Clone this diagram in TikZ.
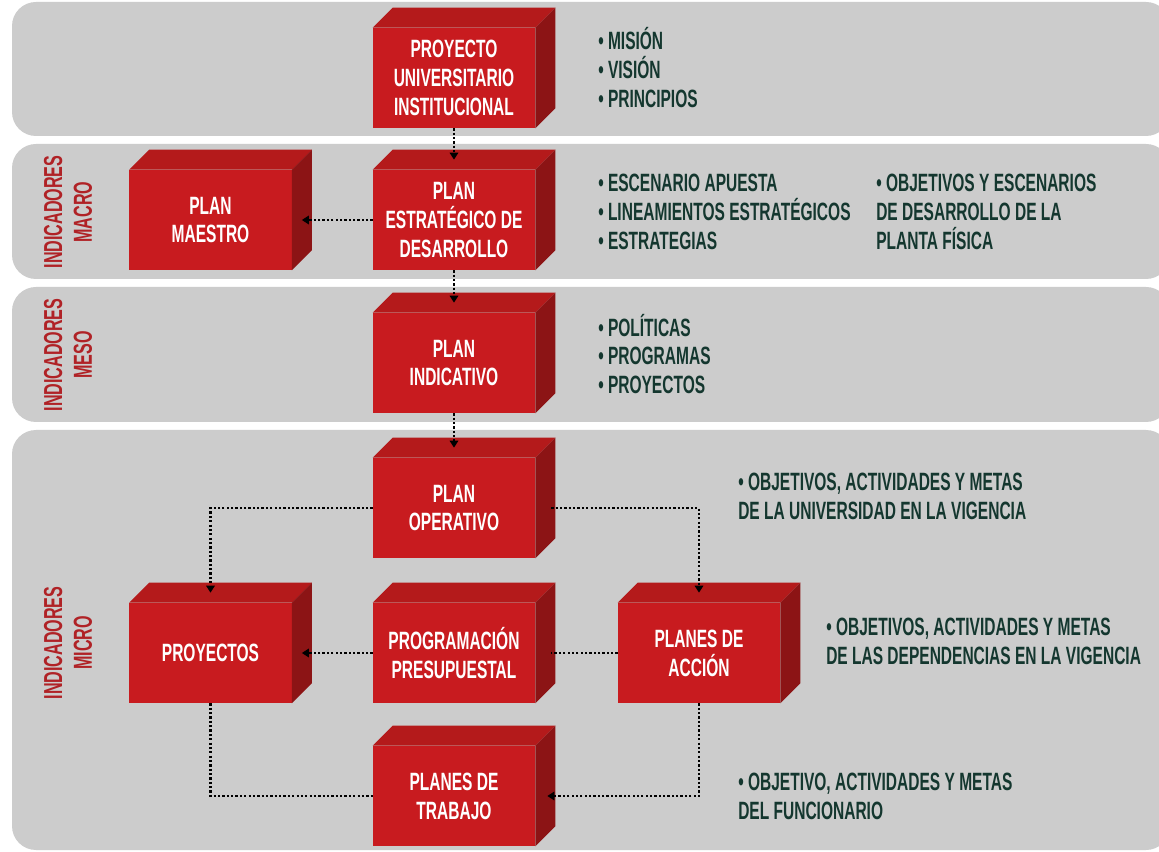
\documentclass[tikz,border=0pt]{standalone}
\usepackage{fontspec}
\setmainfont{Liberation Sans}[FakeStretch=0.62]
\usetikzlibrary{arrows.meta}
\definecolor{bandgray}{HTML}{CCCCCC}
\definecolor{boxfront}{HTML}{C81B1F}
\definecolor{boxtop}{HTML}{B41A1B}
\definecolor{boxside}{HTML}{8C1415}
\definecolor{labelred}{HTML}{B02226}
\definecolor{textdark}{HTML}{14372F}

\begin{document}
\begin{tikzpicture}[x=0.025cm, y=-0.025cm,
		box/.style={fill=boxfront, text=white, minimum width=4.05cm, minimum height=2.5cm, inner sep=0pt, align=center, font=\bfseries\fontsize{17.8}{20.6}\selectfont},
		bullets/.style={anchor=west, inner sep=0pt, align=left, text=textdark, font=\bfseries\fontsize{17.8}{20.6}\selectfont},
		side/.style={rotate=90, inner sep=0pt, align=center, text=labelred, font=\bfseries\fontsize{18.5}{21.2}\selectfont},
		link/.style={line width=1.7pt, dash pattern=on 1.6pt off 1.5pt},
		flow/.style={link, -{Triangle[width=6pt,length=5pt]}}]
		\useasboundingbox (0,0) rectangle (1159,852);
		\clip (0,0) rectangle (1159,852);
		\fill[white] (0,0) rectangle (1159,852);
		\fill[bandgray, rounded corners=0.6cm] (12,2) rectangle (1170,136);
		\fill[bandgray, rounded corners=0.6cm] (12,144) rectangle (1170,279);
		\fill[bandgray, rounded corners=0.6cm] (12,287) rectangle (1170,422);
		\fill[bandgray, rounded corners=0.6cm] (12,430) rectangle (1170,850);

		\node[side] (lmacro) at (68,212) {INDICADORES\\MACRO};
		\node[side] (lmeso) at (68,355) {INDICADORES\\MESO};
		\node[side] (lmicro) at (68,643) {INDICADORES\\MICRO};

		\node[box] (puniv) at (454,78) {PROYECTO\\UNIVERSITARIO\\INSTITUCIONAL};
		\node[box] (pestrat) at (454,220) {PLAN\\ESTRATÉGICO DE\\DESARROLLO};
		\node[box] (pmaestro) at (210.5,220) {PLAN\\MAESTRO};
		\node[box] (pindic) at (454,363) {PLAN\\INDICATIVO};
		\node[box] (poper) at (454,508) {PLAN\\OPERATIVO};
		\node[box] (proy) at (210.5,653) {PROYECTOS};
		\node[box] (ppresup) at (454,653) {PROGRAMACIÓN\\PRESUPUESTAL};
		\node[box] (paccion) at (699,653) {PLANES DE\\ACCIÓN};
		\node[box] (ptrabajo) at (454,796) {PLANES DE\\TRABAJO};
		\foreach \b in {puniv,pestrat,pmaestro,pindic,poper,proy,ppresup,paccion,ptrabajo} {
			\fill[boxtop] (\b.north west) -- ++(20,-20) -- ([shift={(20,-20)}]\b.north east) -- (\b.north east) -- cycle;
			\fill[boxside] (\b.north east) -- ++(20,-20) -- ([shift={(20,-20)}]\b.south east) -- (\b.south east) -- cycle;
		}

		\node[bullets] (tuniv) at (598,68) {• MISIÓN\\• VISIÓN\\• PRINCIPIOS};
		\node[bullets] (testrat) at (598,212) {• ESCENARIO APUESTA\\• LINEAMIENTOS ESTRATÉGICOS\\• ESTRATEGIAS};
		\node[bullets] (tmaestro) at (876,212) {• OBJETIVOS Y ESCENARIOS\\DE DESARROLLO DE LA\\PLANTA FÍSICA};
		\node[bullets] (tindic) at (598,354) {• POLÍTICAS\\• PROGRAMAS\\• PROYECTOS};
		\node[bullets] (toper) at (738,496) {• OBJETIVOS, ACTIVIDADES Y METAS\\DE LA UNIVERSIDAD EN LA VIGENCIA};
		\node[bullets] (taccion) at (826,641) {• OBJETIVOS, ACTIVIDADES Y METAS\\DE LAS DEPENDENCIAS EN LA VIGENCIA};
		\node[bullets] (ttrabajo) at (738,796) {• OBJETIVO, ACTIVIDADES Y METAS\\DEL FUNCIONARIO};

		\draw[flow] (puniv.south) -- ([yshift=0.25cm]pestrat.north);
		\draw[flow] (pestrat.west) -- ([xshift=0.25cm]pmaestro.east);
		\draw[flow] (pestrat.south) -- ([yshift=0.25cm]pindic.north);
		\draw[flow] (pindic.south) -- ([yshift=0.25cm]poper.north);
		\draw[flow] (poper.west) -| ([yshift=0.25cm]proy.north);
		\draw[flow] ([xshift=0.4cm]poper.east) -| ([yshift=0.25cm]paccion.north);
		\draw[flow] (ppresup.west) -- ([xshift=0.25cm]proy.east);
		\draw[link] (paccion.west) -- ([xshift=0.38cm]ppresup.east);
		\draw[link] (proy.south) |- (ptrabajo.west);
		\draw[flow] (paccion.south) |- ([xshift=0.3cm]ptrabajo.east);
	\end{tikzpicture}
\end{document}
